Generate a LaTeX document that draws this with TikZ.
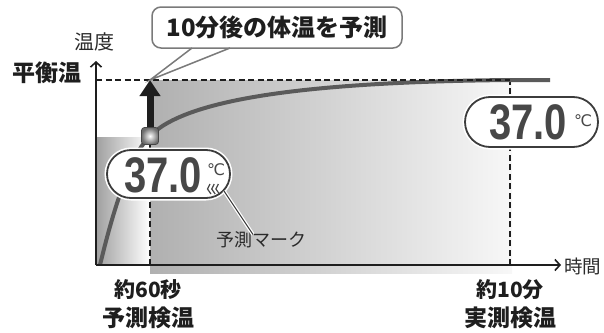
\documentclass[tikz,border=0pt]{standalone}
\usepackage{fontspec}
\newfontfamily\jp{Noto Sans CJK JP}
\newfontfamily\segfont{Liberation Sans}
\newfontfamily\symfont{DejaVu Sans}
\usetikzlibrary{arrows.meta,shapes.misc}
\definecolor{ink}{HTML}{1E1E1E}
\definecolor{curvegray}{HTML}{5A5A5A}
\definecolor{digitgray}{HTML}{474747}
\definecolor{displine}{HTML}{3C3C3C}
\definecolor{calloutline}{HTML}{7A7A7A}
\definecolor{lbltext}{HTML}{2A2A2A}
\newcommand{\segtext}[1]{\scalebox{0.8}[1]{#1}}
\tikzset{
  axisline/.style={line width=1.8pt, draw=ink},
  axisarrow/.style={-{Straight Barb[length=5pt,width=11pt,line width=1.6pt]}},
  dashline/.style={line width=1.6pt, draw=ink, dash pattern=on 6pt off 3.5pt},
  curveline/.style={line width=4pt, draw=curvegray},
  bigarrow/.style={line width=7pt, draw=ink, -{Triangle[length=16pt,width=20pt]}},
  markerbox/.style={shape=rectangle, rounded corners=3pt, minimum size=17pt, inner sep=0pt,
    draw=gray!55!black, line width=0.8pt, shade, inner color=white, outer color=gray!85!black},
  calloutbox/.style={shape=rectangle, rounded corners=9pt, draw=calloutline, line width=1.5pt,
    fill=white, minimum width=250pt, minimum height=41pt, inner sep=0pt,
    font=\jp\bfseries\fontsize{24}{28}\selectfont, text=ink},
  display/.style={shape=rounded rectangle, draw=displine, line width=1.8pt, fill=white,
    preaction={draw=white, line width=5pt}, inner sep=0pt},
  digits/.style={font=\segfont\bfseries\fontsize{50}{52}\selectfont, text=digitgray, inner sep=0pt},
  degc/.style={font=\symfont\fontsize{16}{17}\selectfont, text=digitgray, inner sep=0pt},
  lbl/.style={font=\jp\fontsize{20}{24}\selectfont, text=lbltext, inner sep=0pt},
  medlbl/.style={font=\jp\bfseries\fontsize{21}{24}\selectfont, text=ink, inner sep=0pt},
  smalllbl/.style={font=\jp\fontsize{18}{20}\selectfont, text=lbltext, inner sep=0pt},
  boldlbl/.style={font=\jp\bfseries\fontsize{23}{26}\selectfont, text=ink, inner sep=0pt},
  leader/.style={draw=displine, line width=1pt, preaction={draw=white, line width=3.5pt}},
}
\begin{document}
\begin{tikzpicture}[x=1pt,y=-1pt]
\useasboundingbox (0,0) rectangle (604,332);
% background shading
\shade[left color=gray!62, right color=gray!6] (150,80) rectangle (512,273);
\shade[left color=gray!75, right color=white] (96,137) rectangle (150,265);
% key points
\coordinate (O) at (96,265);
\coordinate (ytop) at (96,61);
\coordinate (xend) at (561,265);
\coordinate (eqL) at (96,80);
\coordinate (eqR) at (510,80);
\coordinate (tip) at (150,80);
\coordinate (p60) at (150,265);
\coordinate (p10) at (510,265);
\coordinate (cstart) at (100,265);
\coordinate (cend) at (550,80);
\coordinate (mkc) at (150,136);
% vertical dashed lines
\draw[dashline] (p60) -- (mkc);
\draw[dashline] (p10) -- (eqR);
% temperature curve
\draw[curveline] (cstart) .. controls (118,190) and (135,150) .. (mkc)
  .. controls (185,100) and (300,82) .. (eqR) -- (cend);
% equilibrium dashed line
\draw[dashline] (eqL) -- (eqR);
% axes
\draw[axisline, axisarrow] (O) -- (ytop);
\draw[axisline, axisarrow] (O) -- (xend);
% marker and arrow
\node[markerbox] (mk) at (mkc) {};
\draw[bigarrow] (mk.north) -- (tip);
% callout
\node[calloutbox] (co) at (277,27.5) {10分後の体温を予測};
\coordinate (cpl) at (192,48);
\coordinate (cpr) at (230,48);
\fill[white] ([yshift=-2pt]cpl) -- (tip) -- ([yshift=-2pt]cpr) -- cycle;
\draw[calloutline, line width=1.5pt, line join=miter] (cpl) -- (tip) -- (cpr);
% left display
\node[display, minimum width=123pt, minimum height=48pt] (d1) at (168.5,174) {};
\node[digits] (d1n) at (163,175) {\segtext{37.0}};
\node[degc] (d1c) at (216,170) {℃};
\foreach \i in {0,1,2}{
  \draw[digitgray, line width=1.2pt] (210+\i*4.2,184) -- (207.5+\i*4.2,189) -- (211+\i*4.2,194);
}
\coordinate (mkr) at (224,191);
% right display
\node[display, minimum width=133pt, minimum height=50pt] (d2) at (531.5,122) {};
\node[digits] (d2n) at (528,122.5) {\segtext{37.0}};
\node[degc] (d2c) at (583,121) {℃};
% labels
\node[smalllbl] (pm) at (261,240) {予測マーク};
\draw[leader] (mkr) -- ([xshift=-8pt,yshift=-3pt]pm.north);
\node[lbl] (wendo) at (94,42) {温度};
\node[boldlbl] (heiko) at (47,73) {平衡温};
\node[lbl, anchor=west, font=\jp\fontsize{18.5}{20}\selectfont] (jikan) at (564,266) {時間};
\node[medlbl] (l60a) at (148,290) {約60秒};
\node[boldlbl] (l60b) at (148,318) {予測検温};
\node[medlbl] (l10a) at (510,290) {約10分};
\node[boldlbl] (l10b) at (510,318) {実測検温};
\end{tikzpicture}
\end{document}
